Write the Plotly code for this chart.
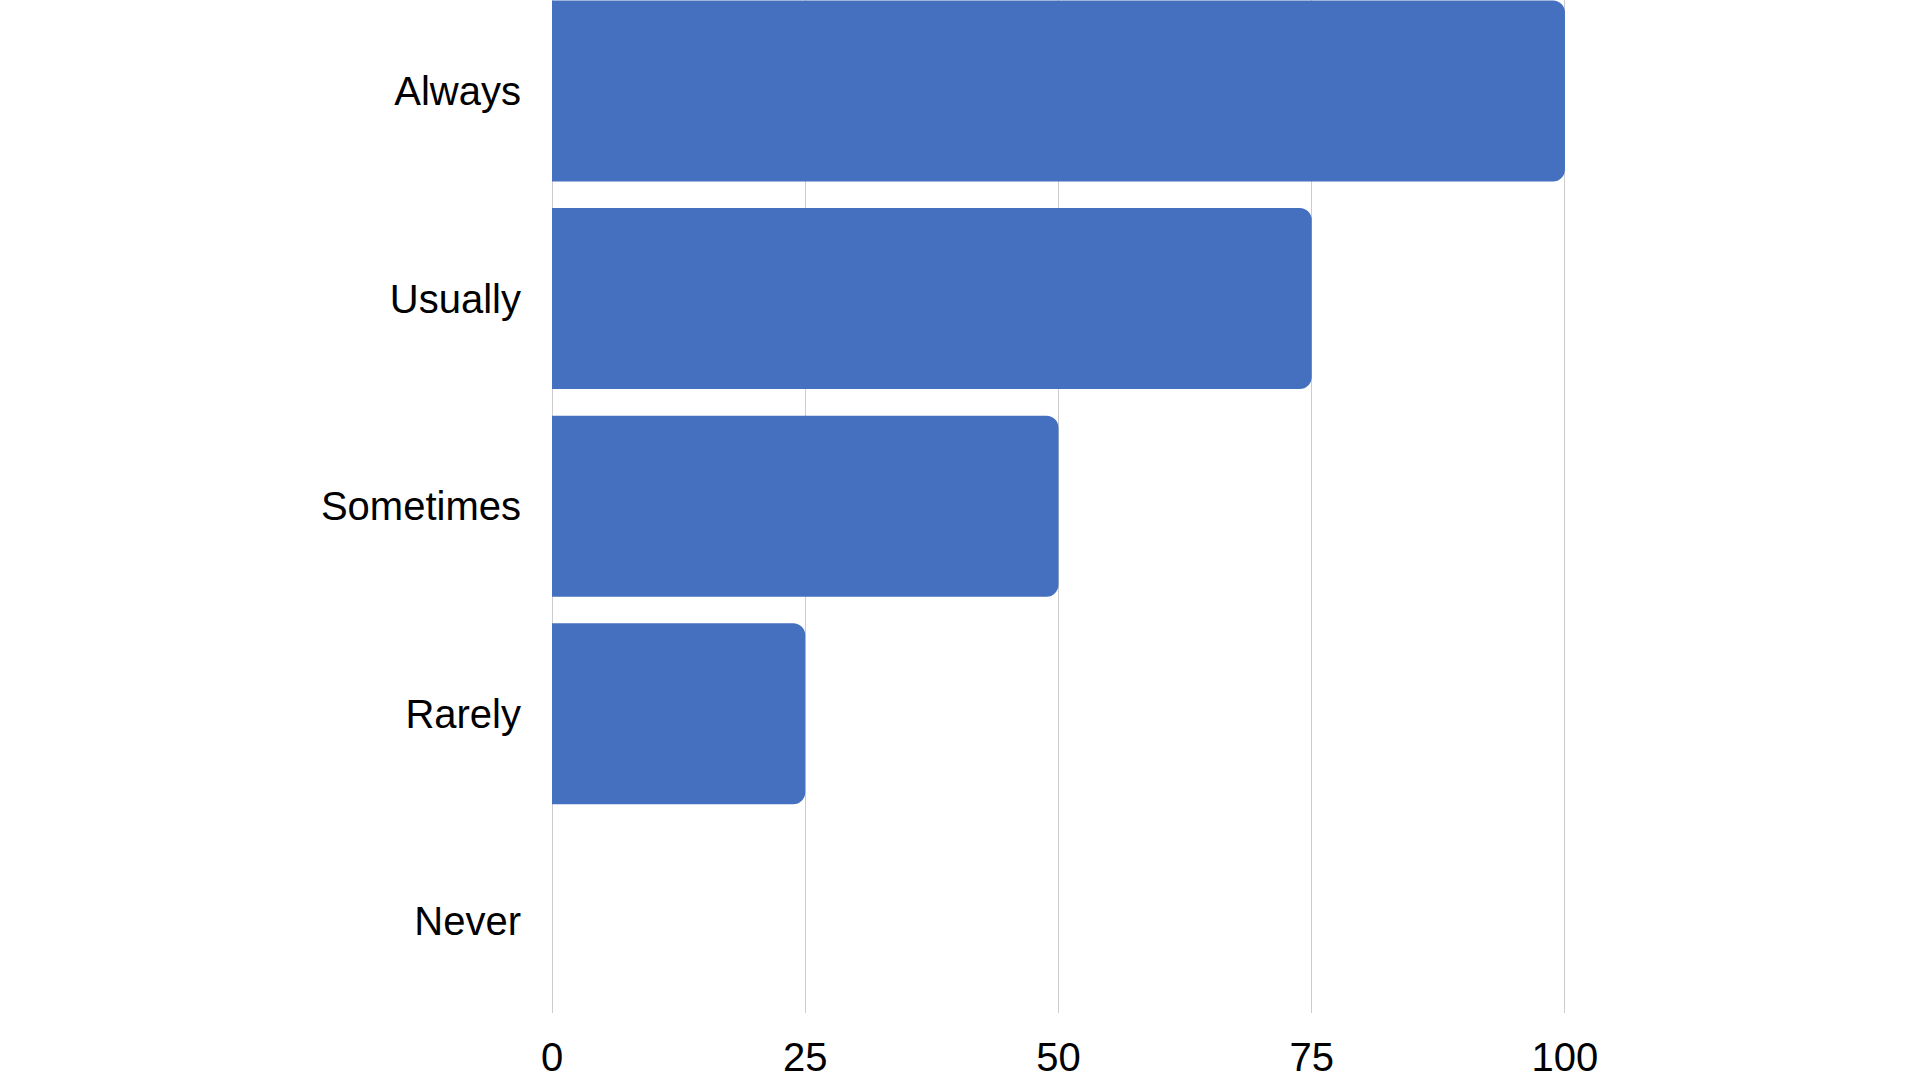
import plotly.graph_objects as go

categories = ["Always", "Usually", "Sometimes", "Rarely", "Never"]
values = [100, 75, 50, 25, 0]
x_ticks = [0, 25, 50, 75, 100]

fig = go.Figure(
    go.Bar(
        x=values,
        y=categories,
        orientation="h",
        marker=dict(color="#4470BF", line=dict(width=0)),
        hoverinfo="skip",
    )
)

fig.update_layout(
    width=1920,
    height=1080,
    paper_bgcolor="white",
    plot_bgcolor="white",
    margin=dict(l=552, r=352, t=0, b=67, pad=0, autoexpand=False),
    bargap=0.128,
    barcornerradius=12,
    showlegend=False,
    font=dict(family="Liberation Sans, Arial, sans-serif", color="#000000", size=40),
)

fig.update_xaxes(
    range=[0, 100.3],
    tickvals=x_ticks,
    ticktext=[str(t) for t in x_ticks],
    showgrid=True,
    gridcolor="#cccccc",
    gridwidth=1,
    zeroline=True,
    zerolinecolor="#cccccc",
    zerolinewidth=1,
    showline=False,
    ticks="",
    automargin=False,
    ticklabelstandoff=17,
    tickfont=dict(size=40, color="#000000"),
)

fig.update_yaxes(
    type="category",
    categoryorder="array",
    categoryarray=categories,
    range=[4.442, -0.4386],
    showgrid=False,
    zeroline=False,
    showline=False,
    ticks="",
    automargin=False,
    ticklabelstandoff=30,
    tickfont=dict(size=40, color="#000000"),
)

fig.write_html("out.html")
